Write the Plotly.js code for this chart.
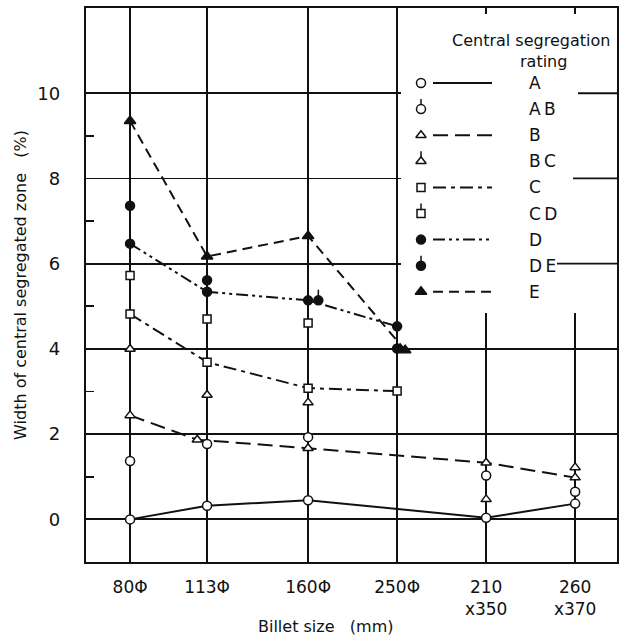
<!DOCTYPE html>
<html>
<head>
<meta charset="utf-8">
<script src="https://cdn.plot.ly/plotly-3.0.1.min.js"></script>
<style>
  html, body { margin: 0; padding: 0; background: #fff; }
  #chart { width: 619px; height: 640px; }
</style>
</head>
<body>
<div id="chart"></div>
<script>
// Billet sizes along the x axis and the axis position of each column
const billetLabels = ['80Φ', '113Φ', '160Φ', '250Φ', '210<br>x350', '260<br>x370'];
const billetPos = [1, 1.865, 3, 4, 5, 6];

// Width of central segregated zone (%) per segregation rating, one value per billet size
const ratingA  = [0.00, 0.32, 0.45, null, 0.04, 0.37];
const ratingAB = [1.37, 1.77, 1.93, null, 1.03, 0.65];
const ratingB  = [2.44, 1.87, 1.67, null, 1.33, 0.98];
const ratingBC = [4.00, 2.92, 2.74, null, 0.47, 1.22];
const ratingC  = [4.82, 3.69, 3.08, 3.01, null, null];
const ratingCD = [5.72, 4.70, 4.61, null, null, null];
const ratingD  = [6.47, 5.34, 5.14, 4.53, null, null];
const ratingDE = [7.36, 5.61, 5.14, 4.01, null, null];
const ratingE  = [9.35, 6.17, 6.65, 3.97, null, null];

const yTicks = [0, 2, 4, 6, 8, 10];
const yMinorTicks = [1, 3, 5, 7, 9];

// ---- styling ----
const INK = '#111111';
const FONT = 'DejaVu Sans, Liberation Sans, sans-serif';
const STEM = 0.25;            // length of the marker stem for in-between ratings (y units)
const X_RANGE = [0.505, 6.47];
const Y_RANGE = [-1, 12];
const M = { l: 86, r: 2, t: 8, b: 78 };
const W = 619, H = 640;
const plotW = W - M.l - M.r, plotH = H - M.t - M.b;

// small sideways nudges so coinciding markers stay visible
const noShift = [0, 0, 0, 0, 0, 0];

const series = [
  { name: 'A',  values: ratingA,  symbol: 'circle',      fill: '#fff', size: 9,  dash: 'solid' },
  { name: 'AB', values: ratingAB, symbol: 'circle',      fill: '#fff', size: 9,  stem: true },
  { name: 'B',  values: ratingB,  symbol: 'triangle-up', fill: '#fff', size: 9,  dash: '15px,7px', shift: [0, -0.11, 0, 0, 0, 0] },
  { name: 'BC', values: ratingBC, symbol: 'triangle-up', fill: '#fff', size: 9,  stem: true },
  { name: 'C',  values: ratingC,  symbol: 'square',      fill: '#fff', size: 8,  dash: '13px,5px,4px,5px' },
  { name: 'CD', values: ratingCD, symbol: 'square',      fill: '#fff', size: 8,  stem: true },
  { name: 'D',  values: ratingD,  symbol: 'circle',      fill: INK,    size: 9,  dash: '12px,4px,3px,4px,3px,4px' },
  { name: 'DE', values: ratingDE, symbol: 'circle',      fill: INK,    size: 9,  stem: true, shift: [0, 0, 0.115, 0, 0, 0] },
  { name: 'E',  values: ratingE,  symbol: 'triangle-up', fill: INK,    size: 10, dash: '10px,6px', shift: [0, 0, 0, 0.09, 0, 0] }
];

// pixel helpers for the legend block
const pxToX = px => X_RANGE[0] + (px - M.l) / plotW * (X_RANGE[1] - X_RANGE[0]);
const pxToY = py => Y_RANGE[1] - (py - M.t) / plotH * (Y_RANGE[1] - Y_RANGE[0]);

function markerStyle(s) {
  return { symbol: s.symbol, size: s.size, color: s.fill, line: { color: INK, width: 1.5 } };
}

function stemBars(n, len, upIsMinus) {
  const up = new Array(n).fill(len), none = new Array(n).fill(0);
  return {
    type: 'data', symmetric: false,
    array: upIsMinus ? none : up,
    arrayminus: upIsMinus ? up : none,
    width: 0, thickness: 1.5, color: INK
  };
}

const traces = [];

// rated series with connecting lines first, stem-only ratings on top
const drawOrder = series.filter(s => s.dash).concat(series.filter(s => !s.dash));
drawOrder.forEach(s => {
  const shift = s.shift || noShift;
  const t = {
    type: 'scatter',
    name: s.name,
    x: billetPos.map((p, i) => p + shift[i]),
    y: s.values,
    mode: s.dash ? 'lines+markers' : 'markers',
    connectgaps: true,
    marker: markerStyle(s),
    showlegend: false,
    hoverinfo: 'skip'
  };
  if (s.dash) t.line = { color: INK, width: 2, dash: s.dash };
  if (s.stem) t.error_y = stemBars(s.values.length, STEM, false);
  traces.push(t);
});

// ---- legend drawn on its own pixel-scaled overlay axes ----
const LEG = { markerX: 421, lineX0: 433, lineX1: 492, labelX: 527, rowY0: 83, rowGap: 26.1 };
const annotations = [];
series.forEach((s, i) => {
  const ry = LEG.rowY0 + i * LEG.rowGap;
  if (s.dash) {
    traces.push({
      type: 'scatter', xaxis: 'x2', yaxis: 'y2', mode: 'lines',
      x: [LEG.lineX0, LEG.lineX1], y: [ry, ry],
      line: { color: INK, width: 2, dash: s.dash },
      showlegend: false, hoverinfo: 'skip'
    });
  }
  const m = {
    type: 'scatter', xaxis: 'x2', yaxis: 'y2', mode: 'markers',
    x: [LEG.markerX], y: [ry], marker: markerStyle(s),
    showlegend: false, hoverinfo: 'skip'
  };
  if (s.stem) m.error_y = stemBars(1, 10, true);
  traces.push(m);
  annotations.push({
    xref: 'x2', yref: 'y2', x: LEG.labelX, y: ry,
    text: s.name.split('').join('\u2009'),
    showarrow: false, xanchor: 'left', yanchor: 'middle',
    font: { family: FONT, size: 17, color: INK }
  });
});
annotations.push(
  { xref: 'x2', yref: 'y2', x: 531, y: 40, text: 'Central segregation', showarrow: false,
    xanchor: 'center', yanchor: 'middle', font: { family: FONT, size: 16, color: INK } },
  { xref: 'x2', yref: 'y2', x: 543, y: 61, text: 'rating', showarrow: false,
    xanchor: 'center', yanchor: 'middle', font: { family: FONT, size: 16, color: INK } },
  { xref: 'paper', yref: 'paper', x: (325 - M.l) / plotW, y: ((H - M.b) - 627) / plotH,
    text: 'Billet size\u00a0\u00a0\u00a0(mm)', showarrow: false,
    xanchor: 'center', yanchor: 'middle', font: { family: FONT, size: 16, color: INK } }
);

// white backing behind the legend, then the grid pieces that run past it
const gridSeg = (yv, px) => ({
  type: 'line', layer: 'between', xref: 'x', yref: 'y',
  x0: pxToX(px), x1: X_RANGE[1], y0: yv, y1: yv,
  line: { color: INK, width: 1.8 }
});
const shapes = [
  { type: 'rect', layer: 'between', xref: 'x', yref: 'y',
    x0: pxToX(401), x1: X_RANGE[1], y0: pxToY(313), y1: pxToY(14),
    fillcolor: '#fff', line: { width: 0 } },
  gridSeg(yTicks[5], 578),
  gridSeg(yTicks[4], 573),
  gridSeg(yTicks[3], 557)
];

const layout = {
  width: W, height: H,
  margin: M,
  paper_bgcolor: '#fff', plot_bgcolor: '#fff',
  font: { family: FONT, color: INK },
  showlegend: false,
  xaxis: {
    range: X_RANGE, tickmode: 'array', tickvals: billetPos, ticktext: billetLabels,
    showgrid: true, gridcolor: INK, gridwidth: 1.8, zeroline: false,
    showline: true, mirror: true, linecolor: INK, linewidth: 2.2,
    ticks: '', ticklabelstandoff: 8,
    tickfont: { family: FONT, size: 17, color: INK }
  },
  yaxis: {
    range: Y_RANGE, tickmode: 'array', tickvals: yTicks,
    showgrid: true, gridcolor: INK, gridwidth: 1.8, zeroline: false,
    showline: true, mirror: true, linecolor: INK, linewidth: 2.2,
    ticks: '', ticklabelstandoff: 20,
    tickfont: { family: FONT, size: 18, color: INK },
    minor: { tickmode: 'array', tickvals: yMinorTicks, ticks: 'inside', ticklen: 8,
             tickwidth: 1.8, tickcolor: INK, showgrid: false },
    title: { text: 'Width of central segregated zone\u00a0\u00a0\u00a0(%)', standoff: 7,
             font: { family: FONT, size: 16, color: INK } }
  },
  xaxis2: { overlaying: 'x', anchor: 'y2', range: [M.l, W - M.r], visible: false, fixedrange: true },
  yaxis2: { overlaying: 'y', anchor: 'x2', range: [H - M.b, M.t], visible: false, fixedrange: true },
  shapes: shapes,
  annotations: annotations
};

Plotly.newPlot('chart', traces, layout, { staticPlot: true, displayModeBar: false });
</script>
</body>
</html>
